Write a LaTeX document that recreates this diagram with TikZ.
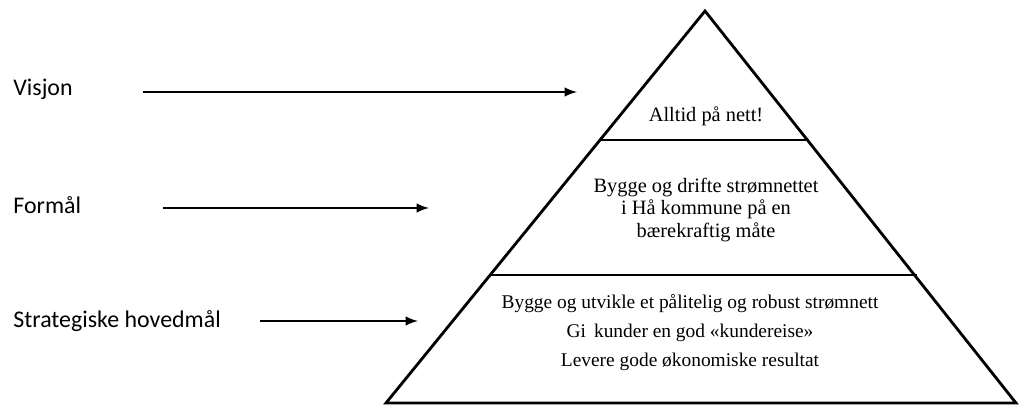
\documentclass[tikz,border=0pt]{standalone}
\usepackage{fontspec}
\setmainfont{Liberation Serif}
\newfontfamily\lblfont{Carlito}
\tikzset{
  level/.style={font=\fontsize{14.5}{15.8}\selectfont, align=center, inner sep=0pt},
  goals/.style={font=\fontsize{13.8}{20.6}\selectfont, align=center, inner sep=0pt},
  lbl/.style={font=\lblfont\fontsize{17}{20}\selectfont, anchor=west, inner sep=0pt},
}

\begin{document}
\begin{tikzpicture}[x=0.025cm,y=-0.025cm,line width=2pt,>=latex]
  \useasboundingbox (0,0) rectangle (1021,405);
  % pyramid
  \draw (705,11) -- (386,403) -- (1016,403) -- cycle;
  \draw (599,140) -- (809,140);
  \draw (490,275) -- (917,275);
  \node[level] (visjontxt) at (706,116) {Alltid på nett!};
  \node[level] (formaltxt) at (706,210) {Bygge og drifte strømnettet\\ i Hå kommune på en\\ bærekraftig måte};
  \node[goals] (maltxt) at (690,333) {Bygge og utvikle et pålitelig og robust strømnett\\ Gi\, kunder en god «kundereise»\\ Levere gode økonomiske resultat};
  % labels
  \node[lbl] (visjon) at (12,89) {Visjon};
  \node[lbl] (formal) at (12,205) {Formål};
  \node[lbl] (strat) at (12,321) {Strategiske hovedmål};
  % arrows
  \coordinate (va) at (143,92);
  \coordinate (vb) at (577,92);
  \coordinate (fa) at (163,208);
  \coordinate (fb) at (429,208);
  \coordinate (sa) at (260,321);
  \coordinate (sb) at (418,321);
  \draw[->] (va) -- (vb);
  \draw[->] (fa) -- (fb);
  \draw[->] (sa) -- (sb);
\end{tikzpicture}
\end{document}
